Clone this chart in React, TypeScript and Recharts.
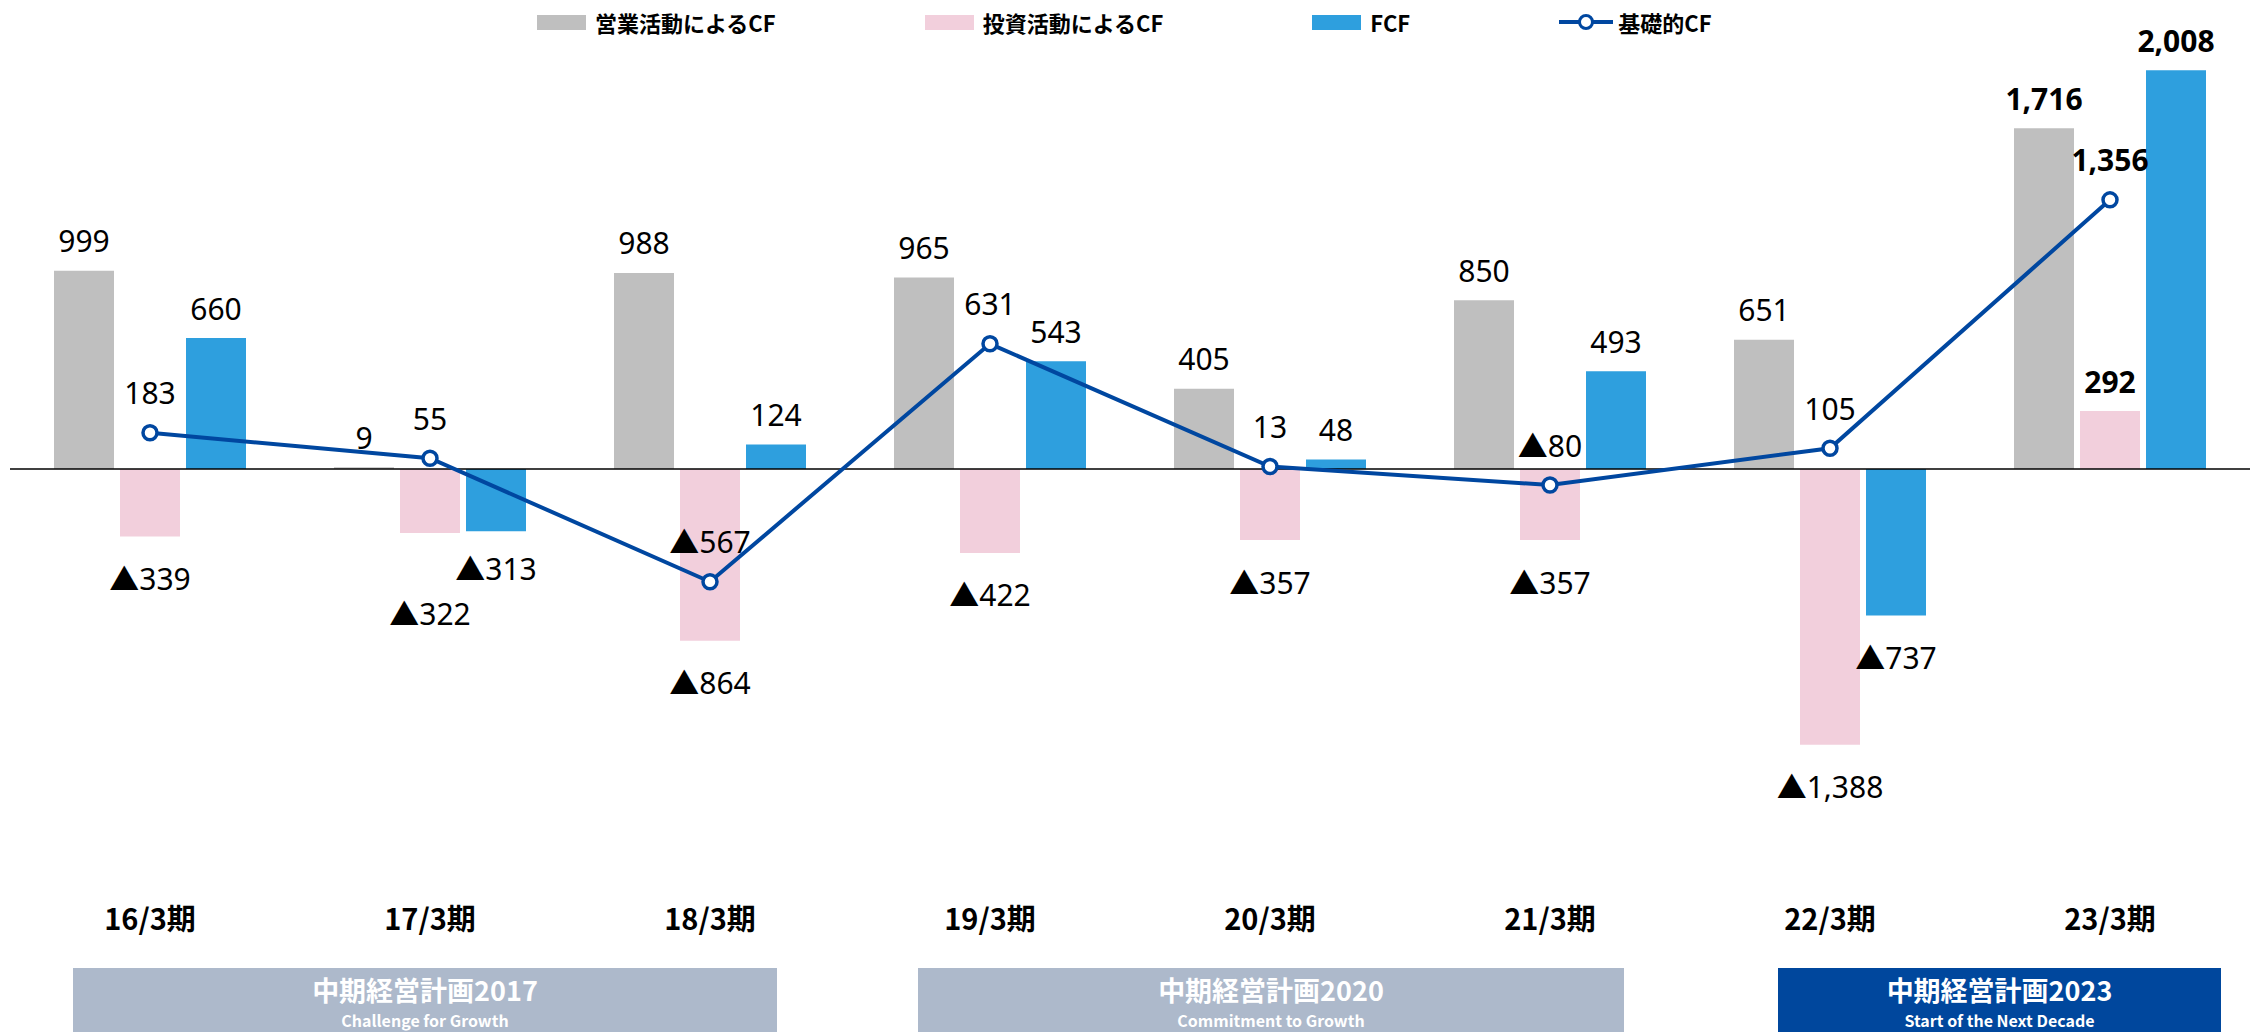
import React from 'react';
import { ComposedChart, Bar, Line, XAxis, YAxis, ReferenceLine, LabelList } from 'recharts';

const categories = ['16/3期', '17/3期', '18/3期', '19/3期', '20/3期', '21/3期', '22/3期', '23/3期'];
const operatingCF = [999, 9, 988, 965, 405, 850, 651, 1716];
const investingCF = [-339, -322, -864, -422, -357, -357, -1388, 292];
const freeCF = [660, -313, 124, 543, 48, 493, -737, 2008];
const basicCF = [183, 55, -567, 631, 13, -80, 105, 1356];

const seriesNames = ['営業活動によるCF', '投資活動によるCF', 'FCF', '基礎的CF'];
const planNames = ['中期経営計画2017', '中期経営計画2020', '中期経営計画2023'];
const planSubtitles = ['Challenge for Growth', 'Commitment to Growth', 'Start of the Next Decade'];

const GREY = '#BFBFBF';
const PINK = '#F2CFDC';
const BLUE = '#2E9FDE';
const NAVY = '#0047A0';
const PLAN_GREY = '#ADB9CB';
const PLAN_NAVY = '#00479D';

const NUM_FONT = "'Noto Sans', 'Noto Sans CJK JP', sans-serif";
const JP_FONT = "'Noto Sans CJK JP', 'Noto Sans', sans-serif";

const data = categories.map((name, i) => ({
  name,
  op: operatingCF[i],
  inv: investingCF[i],
  fcf: freeCF[i],
  basic: basicCF[i],
}));

// layout of the plan boxes under the axis
const planBoxes = [
  { left: 73, right: 777, color: PLAN_GREY },
  { left: 918, right: 1624, color: PLAN_GREY },
  { left: 1778, right: 2221, color: PLAN_NAVY },
];

const fmt = (v: number) =>
  v < 0 ? '▲' + Math.abs(v).toLocaleString('en-US') : v.toLocaleString('en-US');

const makeBarLabel = (extraBelow: Record<number, number> = {}) => (props: any) => {
  const vb = props.viewBox || props;
  const x = vb.x ?? props.x;
  const y = vb.y ?? props.y;
  const w = vb.width ?? props.width ?? 0;
  const h = vb.height ?? props.height ?? 0;
  const value = Number(props.value);
  const index = props.index;
  const top = Math.min(y, y + h);
  const bottom = Math.max(y, y + h);
  const ty = value < 0 ? bottom + 42 + (extraBelow[index] ?? 0) : top - 30;
  return (
    <text
      x={x + w / 2}
      y={ty}
      textAnchor="middle"
      dominantBaseline="central"
      fontSize={30}
      fontWeight={index === 7 ? 700 : 400}
      fontFamily={NUM_FONT}
      fill="#000"
    >
      {fmt(value)}
    </text>
  );
};

const lineLabel = (props: any) => {
  const vb = props.viewBox || props;
  const x = vb.x ?? props.x;
  const y = vb.y ?? props.y;
  const value = Number(props.value);
  return (
    <text
      x={x}
      y={y - 40}
      textAnchor="middle"
      dominantBaseline="central"
      fontSize={30}
      fontWeight={props.index === 7 ? 700 : 400}
      fontFamily={NUM_FONT}
      fill="#000"
    >
      {fmt(value)}
    </text>
  );
};

const CategoryTick = (props: any) => {
  const { x, y, payload } = props;
  return (
    <text
      x={x}
      y={y + 150}
      textAnchor="middle"
      dominantBaseline="central"
      fontSize={29}
      fontWeight={700}
      fontFamily={JP_FONT}
      fill="#000"
    >
      {payload.value}
    </text>
  );
};

const LegendMarker = ({ i }: { i: number }) => {
  if (i === 3) {
    return (
      <svg width={54} height={20} style={{ display: 'block' }}>
        <line x1={0} y1={10} x2={54} y2={10} stroke={NAVY} strokeWidth={4} />
        <circle cx={27} cy={10} r={6.5} fill="#fff" stroke={NAVY} strokeWidth={3} />
      </svg>
    );
  }
  const c = [GREY, PINK, BLUE][i];
  return <div style={{ width: 49, height: 15, background: c }} />;
};

const App: React.FC = () => {
  return (
    <div style={{ position: 'absolute', left: 0, top: 0, width: 2257, height: 1032, background: '#fff' }}>
      <div
        style={{
          position: 'absolute',
          left: 537,
          top: 0,
          height: 44,
          display: 'flex',
          alignItems: 'center',
          gap: 149,
          fontFamily: JP_FONT,
          fontWeight: 700,
          fontSize: 22,
          color: '#000',
        }}
      >
        {seriesNames.map((n, i) => (
          <div key={n} style={{ display: 'flex', alignItems: 'center', gap: i === 3 ? 5 : 9 }}>
            <LegendMarker i={i} />
            <span>{n}</span>
          </div>
        ))}
      </div>

      <ComposedChart
        width={2257}
        height={1032}
        data={data}
        margin={{ top: 62, right: 7, left: 10, bottom: 0 }}
        barCategoryGap={44}
        barGap={6}
      >
        <XAxis
          dataKey="name"
          axisLine={false}
          tickLine={false}
          tickSize={0}
          tickMargin={0}
          height={265}
          interval={0}
          tick={<CategoryTick />}
        />
        <YAxis hide domain={[-1500, 2050]} />
        <Bar dataKey="op" fill={GREY} isAnimationActive={false}>
          <LabelList dataKey="op" content={makeBarLabel()} />
        </Bar>
        <Bar dataKey="inv" fill={PINK} isAnimationActive={false}>
          <LabelList dataKey="inv" content={makeBarLabel({ 1: 38 })} />
        </Bar>
        <Bar dataKey="fcf" fill={BLUE} isAnimationActive={false}>
          <LabelList dataKey="fcf" content={makeBarLabel({ 1: -5 })} />
        </Bar>
        <ReferenceLine y={0} stroke="#000" strokeWidth={1.5} />
        <Line
          dataKey="basic"
          stroke={NAVY}
          strokeWidth={4}
          dot={{ r: 7, fill: '#fff', stroke: NAVY, strokeWidth: 3.5 }}
          activeDot={false}
          isAnimationActive={false}
        >
          <LabelList dataKey="basic" content={lineLabel} />
        </Line>
      </ComposedChart>

      {planBoxes.map((b, i) => (
        <div
          key={planNames[i]}
          style={{
            position: 'absolute',
            left: b.left,
            top: 968,
            width: b.right - b.left,
            height: 64,
            background: b.color,
            color: '#fff',
            fontFamily: JP_FONT,
            fontWeight: 700,
            textAlign: 'center',
          }}
        >
          <div style={{ position: 'absolute', left: 0, right: 0, top: 5, fontSize: 27, lineHeight: '34px' }}>
            {planNames[i]}
          </div>
          <div style={{ position: 'absolute', left: 0, right: 0, top: 42, fontSize: 16, lineHeight: '20px' }}>
            {planSubtitles[i]}
          </div>
        </div>
      ))}
    </div>
  );
};

export default App;
